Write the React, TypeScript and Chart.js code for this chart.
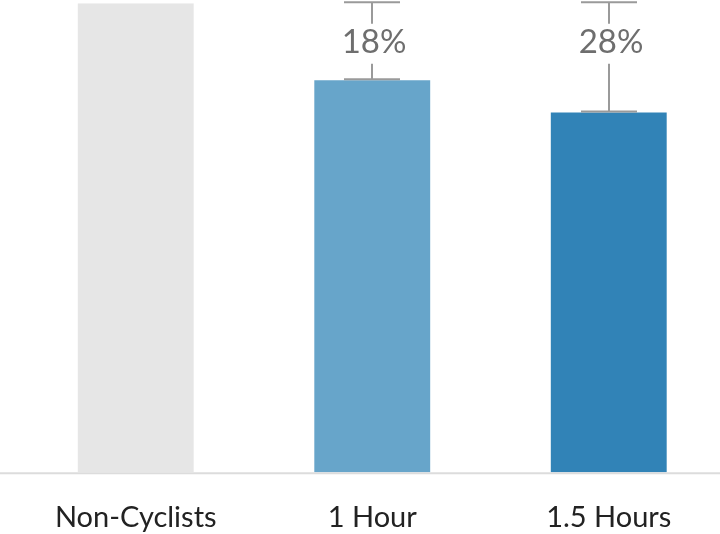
import React, { useEffect, useRef } from "react";
import { Chart, registerables } from "chart.js";

Chart.register(...registerables);

const categories = ["Non-Cyclists", "1 Hour", "1.5 Hours"];
const values = [100, 83.6, 76.7];
const reductionLabels = ["", "18%", "28%"];
const barColors = ["#e6e6e6", "#67a5ca", "#3183b7"];

const errorBarPlugin = {
  id: "errorBars",
  afterDatasetsDraw(chart: any) {
    const { ctx } = chart;
    const meta = chart.getDatasetMeta(0);
    const yScale = chart.scales.y;
    const topY = yScale.getPixelForValue(values[0]) - 1;
    ctx.save();
    ctx.strokeStyle = "#9a9a9a";
    ctx.lineWidth = 2;
    for (let i = 1; i < values.length; i++) {
      const bar = meta.data[i];
      const x = Math.round(bar.x);
      const barTop = bar.y - 1;
      const labelY = topY + 40.5;
      ctx.beginPath();
      ctx.moveTo(x, topY);
      ctx.lineTo(x, labelY - 19);
      ctx.moveTo(x, labelY + 21);
      ctx.lineTo(x, barTop);
      ctx.moveTo(x - 28, topY);
      ctx.lineTo(x + 28, topY);
      ctx.moveTo(x - 28, barTop);
      ctx.lineTo(x + 28, barTop);
      ctx.stroke();
      ctx.fillStyle = "#6e6e6e";
      ctx.font = "33px Lato";
      ctx.textAlign = "center";
      ctx.textBaseline = "middle";
      ctx.fillText(reductionLabels[i], x + 2, labelY);
    }
    ctx.restore();
  },
  beforeDatasetsDraw(chart: any) {
    const { ctx, chartArea } = chart;
    ctx.save();
    ctx.strokeStyle = "#dcdcdc";
    ctx.lineWidth = 2;
    ctx.beginPath();
    ctx.moveTo(0, chartArea.bottom + 1);
    ctx.lineTo(chart.width, chartArea.bottom + 1);
    ctx.stroke();
    ctx.restore();
  },
};

export default function App() {
  const ref = useRef<HTMLCanvasElement>(null);
  useEffect(() => {
    if (!ref.current) return;
    const chart = new Chart(ref.current, {
      type: "bar",
      data: {
        labels: categories,
        datasets: [
          {
            data: values,
            backgroundColor: barColors,
            borderWidth: 0,
            categoryPercentage: 1,
            barPercentage: 0.49,
          },
        ],
      },
      options: {
        animation: false,
        responsive: false,
        devicePixelRatio: 1,
        layout: { padding: { left: 17.5, right: 13, top: 3.3, bottom: 0 } },
        plugins: { legend: { display: false }, tooltip: { enabled: false } },
        scales: {
          y: { display: false, min: 0, max: 100 },
          x: {
            grid: { display: false },
            border: { display: false },
            ticks: {
              color: "#222222",
              font: { family: "Lato", size: 29 },
              padding: 20,
            },
            afterFit(scale: any) {
              scale.height = 534 - 472.3;
            },
          },
        },
      },
      plugins: [errorBarPlugin],
    });
    return () => chart.destroy();
  }, []);
  return (
    <div
      style={{
        position: "fixed",
        left: 0,
        top: 0,
        width: 720,
        height: 534,
        overflow: "hidden",
        background: "#fff",
      }}
    >
      <canvas ref={ref} width={740} height={534} style={{ display: "block" }} />
    </div>
  );
}
